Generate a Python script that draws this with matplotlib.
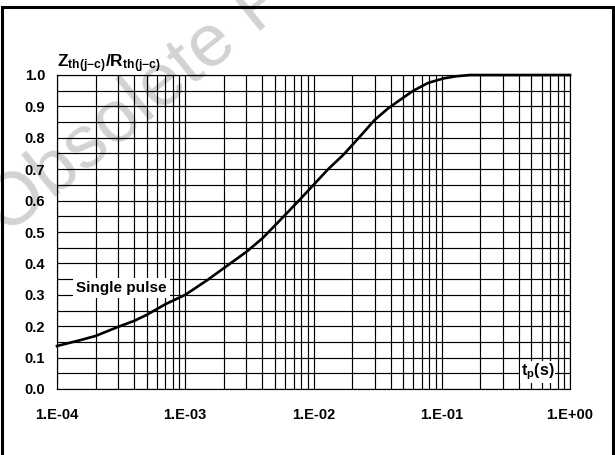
import numpy as np
import matplotlib
matplotlib.use("Agg")
import matplotlib.pyplot as plt
from matplotlib.patches import Rectangle
from matplotlib.ticker import FixedLocator, NullFormatter

plt.rcParams['font.family'] = ['Liberation Sans', 'DejaVu Sans']
plt.rcParams['mathtext.fontset'] = 'custom'
plt.rcParams['mathtext.rm'] = 'Liberation Sans'
plt.rcParams['mathtext.bf'] = 'Liberation Sans:bold'
plt.rcParams['mathtext.it'] = 'Liberation Sans:italic'

# curve
tp = [1e-4, 1.5e-4, 2e-4, 3e-4, 4e-4, 5e-4, 7e-4, 1e-3, 1.5e-3, 2e-3,
      3e-3, 4e-3, 6e-3, 7.85e-3, 1e-2, 1.3e-2, 1.7e-2, 2.2e-2, 3e-2,
      3.8e-2, 4.7e-2, 6e-2, 7.85e-2, 0.103, 0.13, 0.166, 1.0]
zth = [0.137, 0.155, 0.169, 0.198, 0.217, 0.236, 0.27, 0.30, 0.348, 0.385,
       0.437, 0.48, 0.554, 0.604, 0.65, 0.70, 0.745, 0.795, 0.857,
       0.893, 0.92, 0.95, 0.975, 0.989, 0.996, 1.0, 1.0]

x_ticks = [1e-4, 1e-3, 1e-2, 1e-1, 1e0]
x_labels = ["1.E-04", "1.E-03", "1.E-02", "1.E-01", "1.E+00"]
y_ticks = [0.0, 0.1, 0.2, 0.3, 0.4, 0.5, 0.6, 0.7, 0.8, 0.9, 1.0]
y_labels = ["0.0", "0.1", "0.2", "0.3", "0.4", "0.5", "0.6", "0.7", "0.8", "0.9", "1.0"]

fig = plt.figure(figsize=(6.15, 4.55), dpi=100)
ax = fig.add_axes([57 / 615, 66 / 455, 513 / 615, 314 / 455])
ax.set_facecolor('none')

ax.set_xscale('log')
ax.set_xlim(1e-4, 1)
ax.set_ylim(0, 1)

ax.set_xticks(x_ticks)
ax.set_xticklabels(x_labels)
minor_x = [m * 10.0 ** e for e in range(-4, 0) for m in range(2, 10)]
ax.xaxis.set_minor_locator(FixedLocator(minor_x))
ax.xaxis.set_minor_formatter(NullFormatter())
ax.set_yticks(y_ticks)
ax.set_yticklabels(y_labels)
ax.yaxis.set_minor_locator(FixedLocator(np.arange(0.05, 1.0, 0.1)))

ax.tick_params(which='both', length=0)
ax.tick_params(axis='x', pad=13.5, labelsize=10.5)
ax.tick_params(axis='y', pad=8.5, labelsize=10.5)
for lab in ax.get_xticklabels() + ax.get_yticklabels():
    lab.set_fontweight('bold')

ax.grid(True, which='both', color='black', linewidth=0.85)
ax.set_axisbelow(True)
for s in ax.spines.values():
    s.set_linewidth(0.85)
    s.set_color('black')

ax.plot(tp, zth, color='black', linewidth=1.9, zorder=3, clip_on=False,
        solid_joinstyle='round')

ax.text(3.18e-4, 0.322, "Single pulse", fontsize=11, fontweight='bold',
        ha='center', va='center', zorder=4,
        bbox=dict(boxstyle='square,pad=0.2', facecolor='white', edgecolor='none'))
ax.text(0.56, 0.054, r'$\mathbf{t_p(s)}$', fontsize=11.5,
        ha='center', va='center', zorder=4,
        bbox=dict(boxstyle='square,pad=0.05', facecolor='white', edgecolor='none'))

fig.text(57 / 615, (455 - 67) / 455, r'$\mathbf{Z_{th(j{-}c)}/R_{th(j{-}c)}}$',
         fontsize=12.5, ha='left', va='baseline')

# watermark
fig.text(7 / 615, (455 - 236) / 455, "Obsolete Product(s)", fontsize=54,
         color='#d2d2d2', rotation=39, rotation_mode='anchor',
         ha='left', va='baseline', zorder=-1)

# outer frame
fig.patches.append(Rectangle((1.5 / 615, -0.05), 611.5 / 615, 1.05 - 7 / 455,
                             transform=fig.transFigure, fill=False,
                             edgecolor='black', linewidth=2.2, clip_on=False))

fig.savefig("out.png", dpi=100)
